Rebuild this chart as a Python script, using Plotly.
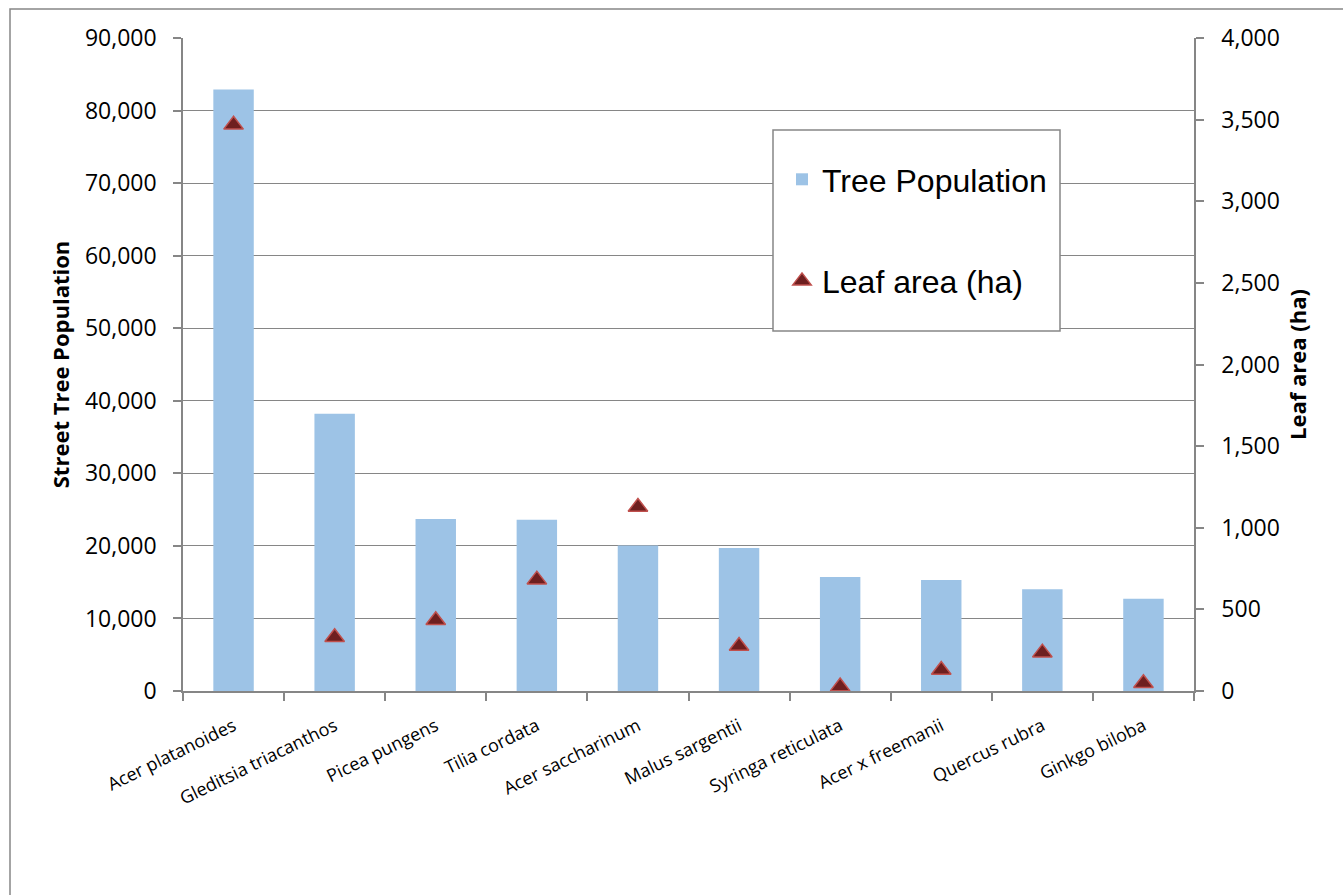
import plotly.graph_objects as go

species = [
    "Acer platanoides", "Gleditsia triacanthos", "Picea pungens", "Tilia cordata",
    "Acer saccharinum", "Malus sargentii", "Syringa reticulata", "Acer x freemanii",
    "Quercus rubra", "Ginkgo biloba",
]
tree_population = [82900, 38200, 23700, 23600, 20040, 19700, 15700, 15300, 14030, 12700]
leaf_area_ha = [3468, 329, 433, 682, 1127, 276, 27, 129, 235, 47]

left_ticks = list(range(0, 90001, 10000))
right_ticks = list(range(0, 4001, 500))

GRAY = "#868686"
TICK_FONT = dict(family="Open Sans", size=23, color="black")

# plot-area geometry in pixels (used to place the framed legend box)
W, H = 1343, 895
L, R, T, B = 183, 1194, 38, 691


def px_x(x):
    return (x - L) / (R - L)


def px_y(y):
    return (B - y) / (B - T)


fig = go.Figure()

fig.add_trace(go.Bar(
    x=species, y=tree_population, name="Tree Population",
    marker=dict(color="#9DC3E6", line=dict(width=0)),
    legendgroup="pop", yaxis="y",
))

fig.add_trace(go.Scatter(
    x=species, y=leaf_area_ha, name="Leaf area (ha)", mode="markers",
    marker=dict(symbol="triangle-up", size=17, color="#6E1F1F",
                line=dict(color="#C0504D", width=1.5)),
    legendgroup="leaf", yaxis="y2",
))

fig.update_layout(
    width=W, height=H,
    margin=dict(l=L, r=W - R, t=T, b=H - B, pad=0),
    paper_bgcolor="white", plot_bgcolor="white",
    bargap=0.6,
    showlegend=True,
    legend=dict(
        x=px_x(782), y=px_y(152), xanchor="left", yanchor="top",
        bgcolor="rgba(0,0,0,0)", borderwidth=0,
        font=dict(family="Liberation Sans", size=32, color="black"),
        traceorder="grouped", tracegroupgap=57,
    ),
    xaxis=dict(
        type="category", range=[-0.5, len(species) - 0.5], tickson="boundaries",
        ticks="outside", ticklen=8, tickcolor=GRAY, tickwidth=1.5,
        showline=True, linecolor=GRAY, linewidth=1.5,
        showgrid=False, tickangle=-26,
        tickfont=dict(family="Open Sans", size=18, color="black"),
        ticklabelstandoff=16,
    ),
    yaxis=dict(
        range=[0, 90000], tickvals=left_ticks, tickformat=",",
        ticks="outside", ticklen=8, tickcolor=GRAY, tickwidth=1.5,
        showline=True, linecolor=GRAY, linewidth=1.5,
        showgrid=True, gridcolor=GRAY, gridwidth=1.2,
        zeroline=False, tickfont=TICK_FONT, ticklabelstandoff=12,
        title=dict(text="<b>Street Tree Population</b>", standoff=9,
                   font=dict(family="Open Sans", size=22, color="black")),
    ),
    yaxis2=dict(
        overlaying="y", side="right",
        range=[0, 4000], tickvals=right_ticks, tickformat=",",
        ticks="outside", ticklen=8, tickcolor=GRAY, tickwidth=1.5,
        showline=True, linecolor=GRAY, linewidth=1.5,
        showgrid=False, zeroline=False, tickfont=TICK_FONT, ticklabelstandoff=13,
        title=dict(text="<b>Leaf area (ha)</b>", standoff=12,
                   font=dict(family="Open Sans", size=22, color="black")),
    ),
    shapes=[
        # outer chart frame
        dict(type="rect", xref="paper", yref="paper",
             x0=px_x(10), x1=px_x(1400), y0=px_y(950), y1=px_y(9),
             line=dict(color=GRAY, width=1.5), fillcolor="rgba(0,0,0,0)", layer="below"),
        # legend frame
        dict(type="rect", xref="paper", yref="paper",
             x0=px_x(773), x1=px_x(1060), y0=px_y(331), y1=px_y(130),
             line=dict(color=GRAY, width=1.5), fillcolor="white", layer="above"),
    ],
)

fig.write_html("out.html")
